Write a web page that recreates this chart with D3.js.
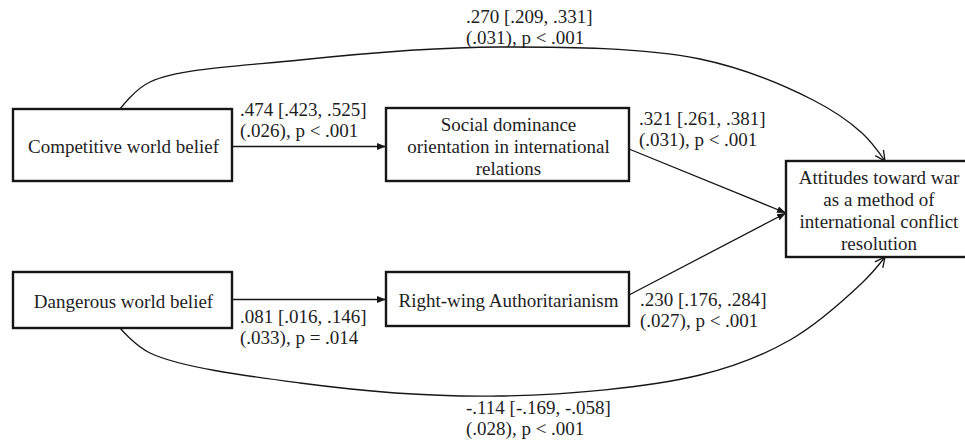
<!DOCTYPE html>
<html>
<head>
<meta charset="utf-8">
<script src="https://cdn.jsdelivr.net/npm/d3@7/dist/d3.min.js"></script>
<style>
  html, body { margin: 0; padding: 0; background: #fff; }
  svg { display: block; }
  text { font-family: "Liberation Serif", "Times New Roman", serif; font-size: 19px; fill: #1e1e1e; }
</style>
</head>
<body>
<svg id="chart" width="965" height="446"></svg>
<script>
// Variables of the mediation model
const nodeIds = ["cwb", "sdo", "att", "dwb", "rwa"];
const nodeLabels = [
  ["Competitive world belief"],
  ["Social dominance", "orientation in international", "relations"],
  ["Attitudes toward war", "as a method of", "international conflict", "resolution"],
  ["Dangerous world belief"],
  ["Right-wing Authoritarianism"]
];

// Path coefficients: estimate, 95% CI, standard error, p-value
const pathFrom  = ["cwb", "sdo", "dwb", "rwa", "cwb", "dwb"];
const pathTo    = ["sdo", "att", "rwa", "att", "att", "att"];
const estimates = [0.474, 0.321, 0.081, 0.230, 0.270, -0.114];
const ciLow     = [0.423, 0.261, 0.016, 0.176, 0.209, -0.169];
const ciHigh    = [0.525, 0.381, 0.146, 0.284, 0.331, -0.058];
const stdErr    = [0.026, 0.031, 0.033, 0.027, 0.031, 0.028];
const pValues   = ["< .001", "< .001", "= .014", "< .001", "< .001", "< .001"];

// Diagram layout
const boxes = {
  cwb: { x: 13,  y: 109, w: 219, h: 72 },
  sdo: { x: 386, y: 108, w: 243, h: 73 },
  att: { x: 786, y: 161, w: 186, h: 96 },
  dwb: { x: 13,  y: 272, w: 219, h: 56 },
  rwa: { x: 386, y: 272, w: 243, h: 54 }
};
const lineH = 22;

// Route of each path and where its label sits (left x, first baseline)
const routes = [
  { kind: "straight", pts: [[232, 146.5], [386, 146.5]], label: [240, 116] },
  { kind: "straight", pts: [[629, 149], [786, 213]],     label: [639, 125] },
  { kind: "straight", pts: [[232, 299.5], [386, 299.5]], label: [240, 323] },
  { kind: "straight", pts: [[629, 295], [786, 213]],     label: [640, 306] },
  { kind: "curve", pts: [[120, 109], [150, 82], [300, 60], [500, 47], [700, 59], [813, 100], [862, 133], [885, 161]], label: [466, 23] },
  { kind: "curve", pts: [[120, 328], [150, 353], [300, 383], [500, 396], [700, 375], [790, 340], [862, 283], [885, 257]], label: [466, 414] }
];

const svg = d3.select("#chart");
const ink = "#161616";

// Arrowheads: filled for direct paths, open for the long curved paths
const defs = svg.append("defs");
defs.append("marker")
  .attr("id", "tri").attr("viewBox", "0 0 10 10")
  .attr("refX", 10).attr("refY", 5)
  .attr("markerUnits", "userSpaceOnUse")
  .attr("markerWidth", 9).attr("markerHeight", 9)
  .attr("orient", "auto")
  .append("path").attr("d", "M0,1.2 L10,5 L0,8.8 Z").attr("fill", ink);
defs.append("marker")
  .attr("id", "vee").attr("viewBox", "0 0 12 12")
  .attr("refX", 11).attr("refY", 6)
  .attr("markerUnits", "userSpaceOnUse")
  .attr("markerWidth", 12).attr("markerHeight", 12)
  .attr("orient", "auto")
  .append("path").attr("d", "M1,1 L11,6 L1,11")
  .attr("fill", "none").attr("stroke", ink).attr("stroke-width", 1.3);

const curveLine = d3.line().curve(d3.curveCatmullRom.alpha(0.5));
const straightLine = d3.line();

// Paths
svg.append("g").selectAll("path")
  .data(routes)
  .join("path")
  .attr("d", r => r.kind === "curve" ? curveLine(r.pts) : straightLine(r.pts))
  .attr("fill", "none")
  .attr("stroke", ink)
  .attr("stroke-width", 1.3)
  .attr("marker-end", r => r.kind === "curve" ? "url(#vee)" : "url(#tri)");

// Variable boxes
const nodes = nodeIds.map((id, i) => ({ id, lines: nodeLabels[i], ...boxes[id] }));
const ng = svg.append("g").selectAll("g").data(nodes).join("g");
ng.append("rect")
  .attr("x", d => d.x).attr("y", d => d.y)
  .attr("width", d => d.w).attr("height", d => d.h)
  .attr("fill", "#fff").attr("stroke", ink).attr("stroke-width", 2.4);
ng.each(function (d) {
  const cx = d.x + d.w / 2, cy = d.y + d.h / 2, n = d.lines.length;
  d3.select(this).selectAll("text")
    .data(d.lines)
    .join("text")
    .attr("x", d.id === "att" ? cx : cx + 1)
    .attr("y", (t, i) => cy + 8 + (i - (n - 1) / 2) * lineH)
    .attr("text-anchor", "middle")
    .text(t => t);
});

// Coefficient labels: three decimals, no leading zero, ASCII hyphen for negatives
const fmt3 = d3.formatLocale({ decimal: ".", thousands: ",", grouping: [3], currency: ["", ""], minus: "-" }).format(".3f");
const num = v => fmt3(v).replace(/^(-?)0\./, "$1.");
const labels = pathFrom.map((f, i) => ({
  l1: `${num(estimates[i])} [${num(ciLow[i])}, ${num(ciHigh[i])}]`,
  l2: `(${num(stdErr[i])}), p ${pValues[i]}`,
  pos: routes[i].label
}));
const lg = svg.append("g").selectAll("g").data(labels).join("g");
lg.append("text").attr("x", d => d.pos[0]).attr("y", d => d.pos[1]).text(d => d.l1);
lg.append("text").attr("x", d => d.pos[0]).attr("y", d => d.pos[1] + 21).text(d => d.l2);
</script>
</body>
</html>
